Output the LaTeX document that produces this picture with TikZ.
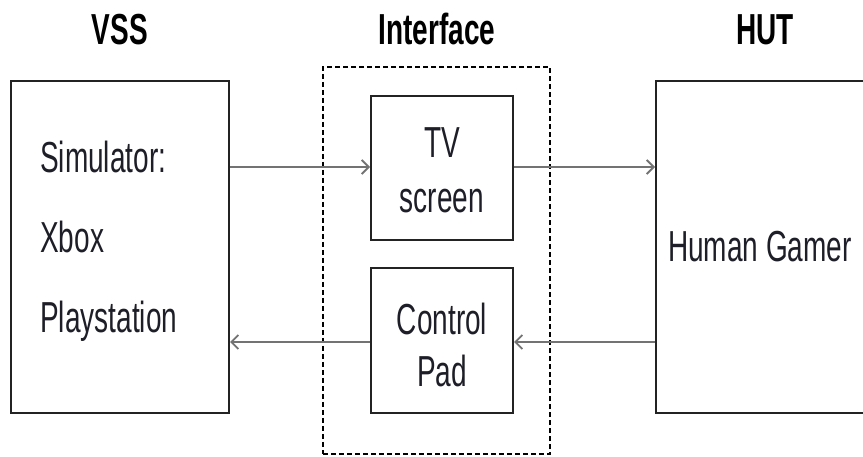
\documentclass[tikz,border=0pt]{standalone}
\usepackage{fontspec}
\setmainfont{Liberation Sans}
\usepackage{graphicx}
\usetikzlibrary{arrows.meta}
\newcommand{\vt}[1]{\scalebox{1}[1.55]{#1}}
\definecolor{arrgray}{RGB}{115,115,115}
\definecolor{boxline}{RGB}{35,35,35}
\definecolor{txt}{RGB}{30,30,40}
\begin{document}
\begin{tikzpicture}[x=1pt,y=-1pt,
  box/.style={draw=boxline, line width=2pt, inner sep=0pt},
  dbox/.style={draw=black, line width=1.6pt, dash pattern=on 5pt off 3pt, inner sep=0pt},
  arr/.style={draw=arrgray, line width=2.3pt, -{Straight Barb[length=7pt,width=14pt,line width=1.8pt]}},
  lbl/.style={inner sep=0pt, text=txt, font=\fontsize{28}{34}\selectfont},
  ttl/.style={inner sep=0pt, text=black, font=\fontsize{28}{34}\selectfont\bfseries, anchor=base}]
\clip (0,0) rectangle (863,457);
% titles
\node[ttl] (tvss) at (120,45) {\vt{VSS}};
\node[ttl] (tint) at (437,45) {\vt{Interface}};
\node[ttl] (thut) at (765,45) {\vt{HUT}};
% boxes
\node[box, minimum width=218pt, minimum height=332pt] (vss) at (120,247) {};
\node[dbox, minimum width=227pt, minimum height=387pt] (intf) at (436.5,260.5) {};
\node[box, minimum width=142pt, minimum height=144pt] (tv) at (442,168) {};
\node[box, minimum width=142pt, minimum height=145pt] (pad) at (442,340.5) {};
\node[box, minimum width=230pt, minimum height=332pt] (hut) at (771,247) {};
% texts
\node[lbl, anchor=base west] (s1) at (40,173) {\vt{Simulator:}};
\node[lbl, anchor=base west] (s2) at (40,253) {\vt{Xbox}};
\node[lbl, anchor=base west] (s3) at (40,333) {\vt{Playstation}};
\node[lbl, anchor=base] (tv1) at (442,158) {\vt{TV}};
\node[lbl, anchor=base] (tv2) at (442,213) {\vt{screen}};
\node[lbl, anchor=base] (cp1) at (442,335) {\vt{Control}};
\node[lbl, anchor=base] (cp2) at (442,387) {\vt{Pad}};
\node[lbl, anchor=base west] (hg) at (668,262) {\vt{Human Gamer}};
% connectors
\coordinate (a1) at (vss.east |- 0,167);
\coordinate (a2) at (tv.west |- 0,167);
\coordinate (a3) at (tv.east |- 0,167);
\coordinate (a4) at (hut.west |- 0,167);
\coordinate (b1) at (hut.west |- 0,342);
\coordinate (b2) at (pad.east |- 0,342);
\coordinate (b3) at (pad.west |- 0,342);
\coordinate (b4) at (vss.east |- 0,342);
\draw[arr] (a1) -- (a2);
\draw[arr] (a3) -- (a4);
\draw[arr] (b1) -- (b2);
\draw[arr] (b3) -- (b4);
\end{tikzpicture}
\end{document}
